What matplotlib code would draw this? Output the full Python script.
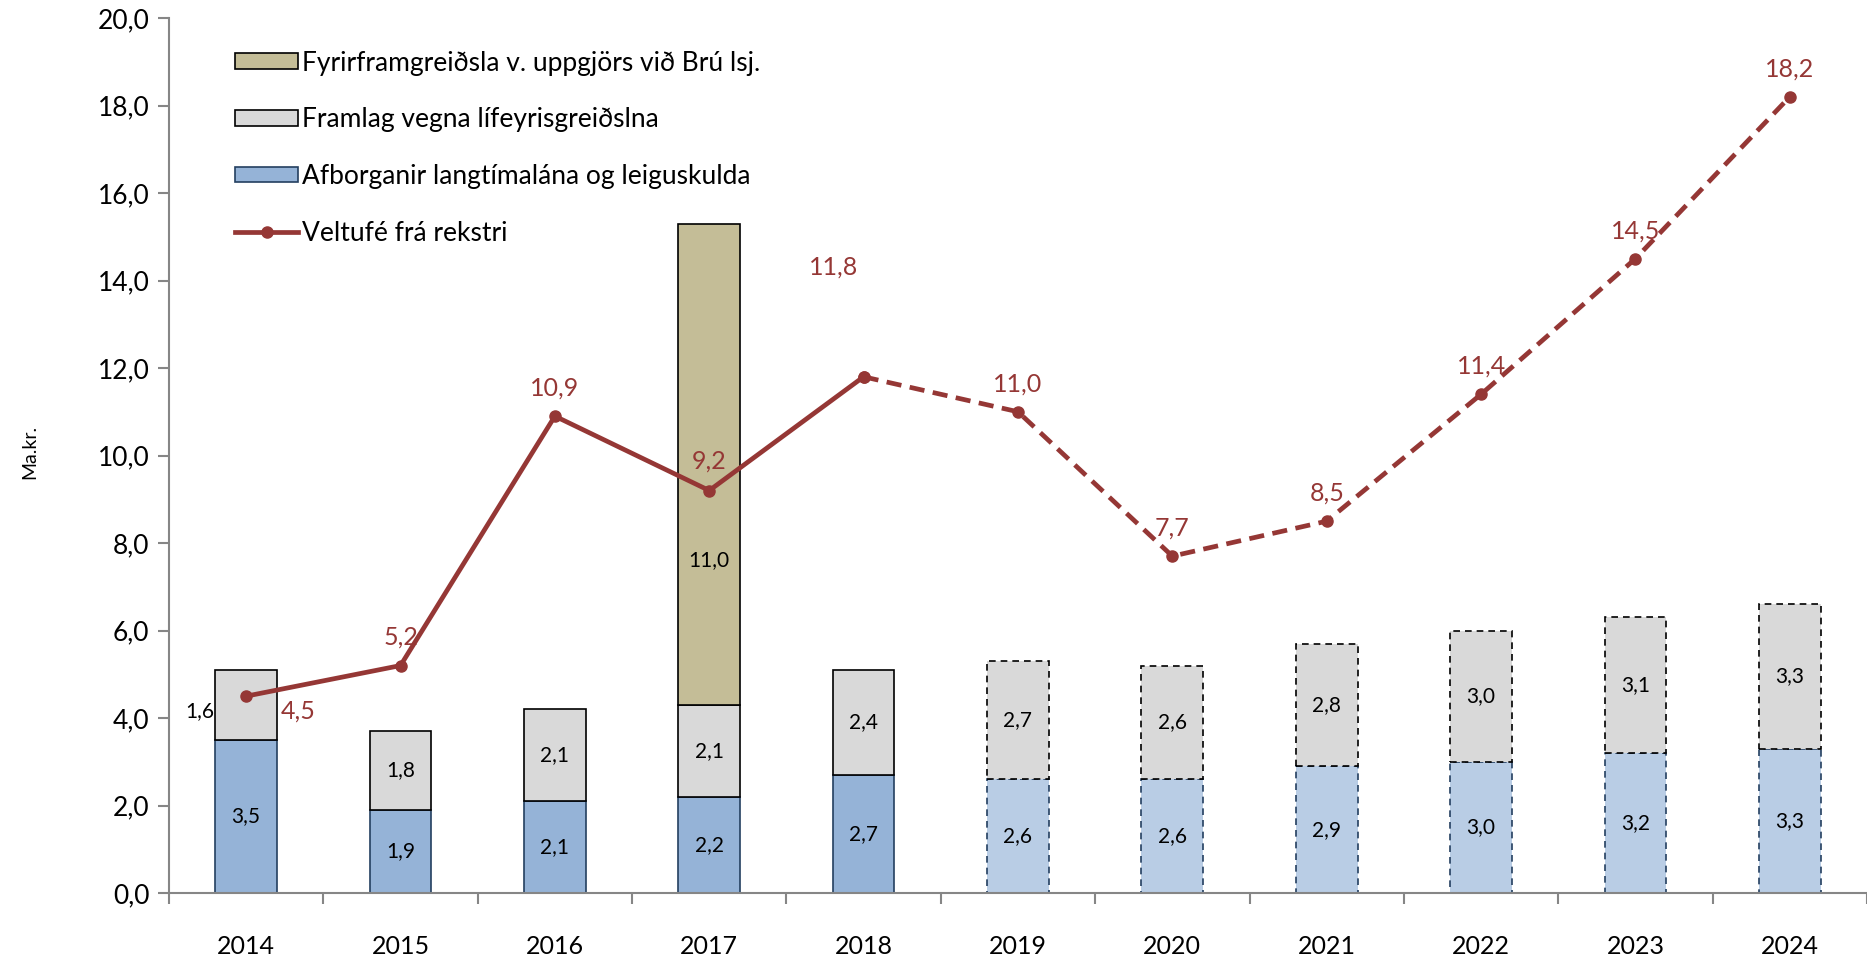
"""Recreate stacked bar + line chart (Ma.kr.)."""

import matplotlib

matplotlib.use("Agg")
import matplotlib.pyplot as plt
import matplotlib.ticker as mticker
from matplotlib.lines import Line2D
from matplotlib.patches import Patch
import numpy as np

plt.rcParams["font.family"] = ["Lato", "DejaVu Sans"]

YEARS = ["2014", "2015", "2016", "2017", "2018", "2019", "2020", "2021", "2022", "2023", "2024"]
AFBORGANIR = [3.5, 1.9, 2.1, 2.2, 2.7, 2.6, 2.6, 2.9, 3.0, 3.2, 3.3]
FRAMLAG = [1.6, 1.8, 2.1, 2.1, 2.4, 2.7, 2.6, 2.8, 3.0, 3.1, 3.3]
FYRIRFRAM = [0, 0, 0, 11.0, 0, 0, 0, 0, 0, 0, 0]
VELTUFE = [4.5, 5.2, 10.9, 9.2, 11.8, 11.0, 7.7, 8.5, 11.4, 14.5, 18.2]
N_ACTUAL = 5  # 2014-2018 actual, the rest is forecast

LEGEND_LABELS = [
    "Fyrirframgreiðsla v. uppgjörs við Brú lsj.",
    "Framlag vegna lífeyrisgreiðslna",
    "Afborganir langtímalána og leiguskulda",
    "Veltufé frá rekstri",
]

BLUE = "#95b3d7"
BLUE_LIGHT = "#b9cde5"
BLUE_EDGE = "#243f60"
GREY = "#d9d9d9"
TAN = "#c4bd97"
RED = "#953735"
AXIS = "#868686"


def fmt(v):
    return f"{v:.1f}".replace(".", ",")


fig = plt.figure(figsize=(18.67, 9.58), dpi=100)
ax = fig.add_axes([0.0905, 0.0678, 0.9095, 0.9134])

x = np.arange(len(YEARS))
blue = np.array(AFBORGANIR)
grey = np.array(FRAMLAG)
tan = np.array(FYRIRFRAM)
width = 0.40
dash_bar = (0, (4, 3))

for idx in range(len(YEARS)):
    actual = idx < N_ACTUAL
    ls = "-" if actual else dash_bar
    ax.bar(x[idx], blue[idx], width, color=BLUE if actual else BLUE_LIGHT,
           edgecolor=BLUE_EDGE, linewidth=1.2, linestyle=ls, zorder=2)
    ax.bar(x[idx], grey[idx], width, bottom=blue[idx], color=GREY,
           edgecolor="black", linewidth=1.2, linestyle=ls, zorder=2)
    if tan[idx] > 0:
        ax.bar(x[idx], tan[idx], width, bottom=blue[idx] + grey[idx], color=TAN,
               edgecolor="black", linewidth=1.2, zorder=2)

# segment labels
for idx in range(len(YEARS)):
    ax.text(x[idx], blue[idx] / 2, fmt(blue[idx]), ha="center", va="center", fontsize=15, zorder=4)
    if idx == 0:
        ax.annotate(fmt(grey[idx]), (x[idx], blue[idx] + grey[idx] / 2), xytext=(-46, -6),
                    textcoords="offset pixels", ha="center", va="center", fontsize=15, zorder=4)
    else:
        ax.text(x[idx], blue[idx] + grey[idx] / 2, fmt(grey[idx]), ha="center", va="center",
                fontsize=15, zorder=4)
    if tan[idx] > 0:
        ax.text(x[idx], blue[idx] + grey[idx] + tan[idx] * 0.3, fmt(tan[idx]), ha="center",
                va="center", fontsize=15, zorder=4)

# line: solid for actual, dashed for forecast
vel = np.array(VELTUFE)
ax.plot(x[:N_ACTUAL], vel[:N_ACTUAL], color=RED, lw=3.4, marker="o", ms=8, zorder=5)
ax.plot(x[N_ACTUAL - 1:], vel[N_ACTUAL - 1:], color=RED, lw=3.4, marker="o", ms=8,
        linestyle=(0, (3.2, 1.8)), zorder=5)

offsets = [(52, -15), (0, 28), (0, 28), (0, 29), (-30, 110), (0, 28), (0, 28), (0, 28), (0, 28), (0, 28), (0, 28)]
for idx, (dx, dy) in enumerate(offsets):
    ax.annotate(fmt(vel[idx]), (x[idx], vel[idx]), xytext=(dx, dy), textcoords="offset pixels",
                ha="center", va="center", fontsize=18, color=RED, zorder=6)

ax.set_xlim(-0.5, 10.36)
ax.set_ylim(0, 20)
ax.yaxis.set_major_locator(mticker.MultipleLocator(2))
ax.yaxis.set_major_formatter(mticker.FuncFormatter(lambda v, _: fmt(v)))
ax.set_xticks(x)
ax.set_xticklabels(YEARS)
ax.set_xticks(np.arange(-0.5, 10.6, 1.0), minor=True)
ax.tick_params(axis="x", which="major", length=0, pad=30, labelsize=18)
ax.tick_params(axis="x", which="minor", length=8, color=AXIS, width=1.5)
ax.tick_params(axis="y", length=8, color=AXIS, width=1.5, labelsize=19, pad=6)

for side in ("top", "right"):
    ax.spines[side].set_visible(False)
for side in ("left", "bottom"):
    ax.spines[side].set_color(AXIS)
    ax.spines[side].set_linewidth(1.5)

fig.text(30 / 1867, 1 - 452 / 958, "Ma.kr.", rotation=90, ha="center", va="center", fontsize=14)

handles = [
    Patch(facecolor=TAN, edgecolor="black", linewidth=1.2),
    Patch(facecolor=GREY, edgecolor="black", linewidth=1.2),
    Patch(facecolor=BLUE, edgecolor=BLUE_EDGE, linewidth=1.2),
    Line2D([], [], color=RED, lw=3.4, marker="o", ms=8),
]
ax.legend(handles, LEGEND_LABELS, loc="upper left", bbox_to_anchor=(0.025, 0.99), frameon=False,
          fontsize=19, handlelength=2.4, handleheight=0.55, handletextpad=0.15, labelspacing=1.2)

fig.savefig("out.png", dpi=100)
plt.close(fig)
